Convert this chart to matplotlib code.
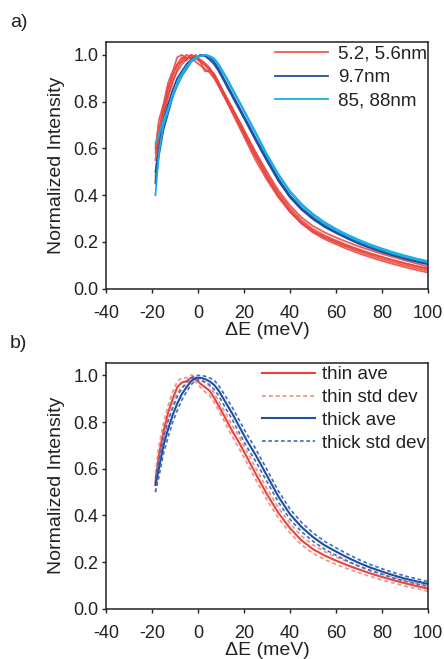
import matplotlib
matplotlib.use("Agg")
import matplotlib.pyplot as plt
import numpy as np

plt.rcParams['font.family'] = ['Liberation Sans', 'DejaVu Sans']

# ---------------- data ----------------
dE = [-18.5, -17, -15, -13, -11, -9, -7, -5, -3, -1, 1, 3, 5, 7, 9, 12, 15, 18, 21, 25,
      30, 35, 40, 45, 50, 55, 60, 65, 70, 75, 80, 85, 90, 95, 100]

# panel a) individual spectra
red_1 = [0.60, 0.72, 0.79, 0.88, 0.93, 0.99, 1.00, 0.985, 0.99, 0.97, 0.955, 0.94, 0.925, 0.90, 0.865,
         0.81, 0.755, 0.70, 0.64, 0.565, 0.48, 0.40, 0.335, 0.284, 0.246, 0.219, 0.197, 0.177, 0.159,
         0.142, 0.127, 0.113, 0.10, 0.088, 0.077]
red_2 = [0.46, 0.62, 0.74, 0.83, 0.89, 0.93, 0.96, 0.98, 1.00, 0.99, 0.975, 0.96, 0.94, 0.915, 0.88,
         0.825, 0.77, 0.715, 0.66, 0.585, 0.50, 0.42, 0.356, 0.305, 0.268, 0.241, 0.219, 0.199, 0.181,
         0.164, 0.149, 0.135, 0.121, 0.108, 0.094]
red_3 = [0.55, 0.66, 0.78, 0.85, 0.92, 0.96, 0.97, 0.99, 0.985, 1.00, 0.97, 0.93, 0.93, 0.92, 0.88,
         0.82, 0.765, 0.705, 0.645, 0.57, 0.475, 0.395, 0.33, 0.278, 0.24, 0.212, 0.19, 0.169,
         0.151, 0.134, 0.119, 0.105, 0.092, 0.08, 0.069]
red_4 = [0.48, 0.64, 0.75, 0.82, 0.88, 0.94, 0.98, 1.00, 0.99, 0.985, 0.97, 0.955, 0.935, 0.905, 0.87,
         0.81, 0.75, 0.69, 0.63, 0.55, 0.465, 0.39, 0.328, 0.28, 0.246, 0.221, 0.201, 0.182, 0.165,
         0.149, 0.135, 0.121, 0.108, 0.096, 0.085]
red_5 = [0.58, 0.68, 0.77, 0.86, 0.91, 0.96, 0.99, 0.975, 1.00, 0.99, 0.98, 0.965, 0.945, 0.915, 0.88,
         0.825, 0.77, 0.715, 0.655, 0.58, 0.49, 0.41, 0.345, 0.293, 0.255, 0.228, 0.206, 0.186, 0.168,
         0.151, 0.136, 0.122, 0.109, 0.097, 0.086]
dblue_1 = [0.45, 0.57, 0.68, 0.75, 0.82, 0.87, 0.91, 0.94, 0.97, 0.985, 1.00, 0.995, 0.98, 0.96, 0.93,
           0.875, 0.82, 0.765, 0.71, 0.635, 0.545, 0.46, 0.39, 0.338, 0.297, 0.264, 0.238, 0.214,
           0.192, 0.173, 0.156, 0.141, 0.127, 0.115, 0.104]
dblue_2 = [0.50, 0.60, 0.72, 0.79, 0.85, 0.90, 0.93, 0.96, 0.98, 0.99, 0.995, 1.00, 0.99, 0.97, 0.94,
           0.885, 0.83, 0.775, 0.72, 0.645, 0.555, 0.47, 0.398, 0.345, 0.304, 0.27, 0.243, 0.219,
           0.197, 0.178, 0.161, 0.146, 0.132, 0.12, 0.109]
lblue_1 = [0.40, 0.58, 0.70, 0.76, 0.82, 0.88, 0.92, 0.95, 0.975, 0.99, 0.995, 1.00, 0.995, 0.98, 0.955,
           0.905, 0.85, 0.795, 0.74, 0.665, 0.57, 0.485, 0.412, 0.357, 0.314, 0.279, 0.25, 0.225,
           0.203, 0.183, 0.166, 0.15, 0.136, 0.124, 0.113]
lblue_2 = [0.62, 0.66, 0.72, 0.77, 0.83, 0.87, 0.91, 0.945, 0.97, 0.985, 0.995, 1.00, 0.995, 0.985, 0.96,
           0.91, 0.855, 0.80, 0.745, 0.67, 0.575, 0.49, 0.418, 0.363, 0.32, 0.285, 0.256, 0.231,
           0.209, 0.189, 0.172, 0.156, 0.142, 0.129, 0.118]

# panel b) averages and standard deviations
thin_ave = [0.54, 0.66, 0.76, 0.84, 0.90, 0.95, 0.97, 0.975, 0.99, 0.985, 0.965, 0.95, 0.935, 0.905, 0.87,
            0.815, 0.76, 0.71, 0.655, 0.58, 0.49, 0.41, 0.345, 0.293, 0.255, 0.228, 0.206, 0.186, 0.168,
            0.151, 0.136, 0.122, 0.109, 0.097, 0.086]
thin_sd = [0.04, 0.04, 0.035, 0.03, 0.03, 0.025, 0.02, 0.015, 0.012, 0.012, 0.015, 0.02, 0.02, 0.02, 0.02,
           0.022, 0.024, 0.025, 0.025, 0.025, 0.024, 0.022, 0.02, 0.019, 0.018, 0.017, 0.016, 0.015,
           0.014, 0.013, 0.013, 0.012, 0.012, 0.011, 0.011]
thick_ave = [0.53, 0.60, 0.70, 0.77, 0.83, 0.88, 0.92, 0.95, 0.975, 0.99, 0.99, 0.985, 0.975, 0.96, 0.935,
             0.885, 0.835, 0.78, 0.725, 0.66, 0.57, 0.48, 0.405, 0.35, 0.307, 0.272, 0.245, 0.219,
             0.196, 0.176, 0.159, 0.143, 0.129, 0.117, 0.106]
thick_sd = [0.03, 0.035, 0.035, 0.035, 0.03, 0.03, 0.025, 0.02, 0.015, 0.01, 0.01, 0.012, 0.015, 0.02, 0.022,
            0.025, 0.026, 0.027, 0.027, 0.027, 0.026, 0.024, 0.022, 0.02, 0.018, 0.017, 0.016, 0.015,
            0.014, 0.013, 0.012, 0.012, 0.011, 0.011, 0.01]

x_ticks = [-40, -20, 0, 20, 40, 60, 80, 100]
y_ticks = [0.0, 0.2, 0.4, 0.6, 0.8, 1.0]

RED = '#e8443c'
DBLUE = '#1f4f9f'
LBLUE = '#18aee8'
RED_L = '#f07a72'
BLUE_D = '#3d6cc0'
INK = '#222222'

# ---------------- figure ----------------
fig = plt.figure(figsize=(4.44, 6.59), dpi=100)
ax1 = fig.add_axes([0.2387, 0.5619, 0.7253, 0.3744])
ax2 = fig.add_axes([0.2387, 0.0764, 0.7253, 0.3733])

x = np.array(dE)

for i, r in enumerate([red_1, red_2, red_3, red_4, red_5]):
    ax1.plot(x, r, color=RED, lw=1.3, alpha=0.85, label='5.2, 5.6nm' if i == 0 else None)
for i, b in enumerate([dblue_1, dblue_2]):
    ax1.plot(x, b, color=DBLUE, lw=1.3, label='9.7nm' if i == 0 else None)
for i, b in enumerate([lblue_1, lblue_2]):
    ax1.plot(x, b, color=LBLUE, lw=1.3, label='85, 88nm' if i == 0 else None)

ta = np.array(thin_ave); ts = np.array(thin_sd)
ka = np.array(thick_ave); ks = np.array(thick_sd)
dash = (0, (2.2, 1.6))
ax2.plot(x, ta, color=RED, lw=1.5, label='thin ave')
ax2.plot(x, ta + ts, color=RED_L, lw=1.3, ls=dash, alpha=0.8, label='thin std dev')
ax2.plot(x, ta - ts, color=RED_L, lw=1.3, ls=dash, alpha=0.8)
ax2.plot(x, ka, color=DBLUE, lw=1.5, label='thick ave')
ax2.plot(x, ka + ks, color=BLUE_D, lw=1.2, ls=dash, label='thick std dev')
ax2.plot(x, ka - ks, color=BLUE_D, lw=1.2, ls=dash)

for ax in (ax1, ax2):
    ax.set_xlim(-40, 100)
    ax.set_ylim(0, 1.055)
    ax.set_xticks(x_ticks)
    ax.set_yticks(y_ticks)
    ax.set_xticklabels([str(t) for t in x_ticks])
    ax.set_yticklabels([f'{t:.1f}' for t in y_ticks])
    ax.tick_params(direction='out', length=3, width=1, labelsize=13, color=INK, labelcolor=INK)
    ax.tick_params(axis='x', pad=9)
    ax.tick_params(axis='y', pad=2.5)
    for s in ax.spines.values():
        s.set_linewidth(1.1)
        s.set_color(INK)
    ax.set_xlabel('ΔE (meV)', fontsize=14, labelpad=0, color=INK)
    ax.set_ylabel('Normalized Intensity', fontsize=14, labelpad=6, color=INK)

leg1 = ax1.legend(loc='upper left', bbox_to_anchor=(0.525, 0.985), frameon=False, fontsize=13.5,
                  handlelength=2.85, handletextpad=0.5, labelspacing=0.34, borderpad=0, borderaxespad=0)
leg2 = ax2.legend(loc='upper left', bbox_to_anchor=(0.483, 0.985), frameon=False, fontsize=13.5,
                  handlelength=2.85, handletextpad=0.4, labelspacing=0.3, borderpad=0, borderaxespad=0)
for leg in (leg1, leg2):
    for t in leg.get_texts():
        t.set_color(INK)

fig.text(0.022, 0.966, 'a)', fontsize=14, va='center', ha='left', color=INK)
fig.text(0.022, 0.479, 'b)', fontsize=14, va='center', ha='left', color=INK)

fig.savefig('out.png', dpi=100)
